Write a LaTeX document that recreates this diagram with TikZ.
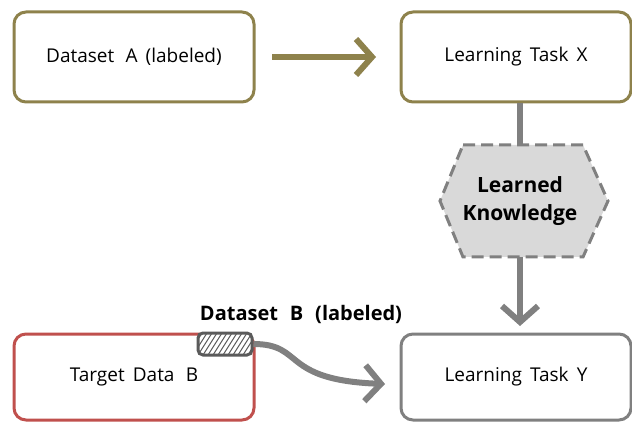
\documentclass[tikz,border=0pt]{standalone}
\usepackage{fontspec}
\setmainfont{Open Sans}
\usetikzlibrary{arrows.meta,patterns,shapes.geometric}
\definecolor{olive}{RGB}{142,130,76}
\definecolor{redb}{RGB}{192,80,77}
\definecolor{grayb}{RGB}{128,128,128}
\definecolor{hexfill}{RGB}{217,217,217}
\begin{document}
\begin{tikzpicture}[x=1pt,y=-1pt,
  box/.style={draw, line width=3pt, rounded corners=12pt, fill=white, inner sep=0pt, font=\fontsize{19}{22}\selectfont},
  thick arrow/.style={line width=6pt, -{Straight Barb[length=16pt,width=36pt,line width=6pt]}},
  hex/.style={draw=grayb, fill=hexfill, dashed, dash pattern=on 12pt off 6pt, line width=3pt}]
\useasboundingbox (0,0) rectangle (632,422);
% top row
\node[box, draw=olive, minimum width=240pt, minimum height=90pt] (dsA) at (134,57) {Dataset\,\, A\, (labeled)};
\node[box, draw=olive, minimum width=230pt, minimum height=90pt] (taskX) at (516,57) {Learning\, Task\, X};
% bottom row
\node[box, draw=redb, minimum width=240pt, minimum height=86pt] (tgt) at (134,377) {Target\, Data\,\, B};
\node[box, draw=grayb, minimum width=230pt, minimum height=86pt] (taskY) at (516,377) {Learning\, Task\, Y};
% knowledge hexagon
\coordinate (hexc) at (520,201);
\draw[hex] (463,145) -- (583,145) -- (608,201) -- (583,257) -- (463,257) -- (440,201) -- cycle;
\node[font=\bfseries\fontsize{21}{28}\selectfont, align=center] (know) at (hexc) {Learned\\Knowledge};
\coordinate (hexT) at (520,145);
\coordinate (hexB) at (520,257);
% connectors
\draw[olive, thick arrow] (272,57) -- (376,57);
\draw[grayb, line width=6pt] (taskX.south -| hexT) -- (hexT);
\draw[grayb, thick arrow] (hexB) -- (520,326);
% labelled data tag
\node[font=\bfseries\fontsize{20}{22}\selectfont] (dsB) at (301,314) {Dataset\,\, B\,\, (labeled)};
\node[draw=grayb!70!black, line width=3pt, rounded corners=5pt, minimum width=54pt, minimum height=22pt, inner sep=0pt,
  path picture={\fill[white] (path picture bounding box.south west) rectangle (path picture bounding box.north east);
  \foreach \i in {-30,-25,...,60} {\draw[grayb!70!black, line width=1pt] ([xshift=\i pt]path picture bounding box.south west) -- ++(14pt,22pt);}}] (tag) at (225,344) {};
\draw[grayb, thick arrow] (tag.east) .. controls (305,344) and (280,380) .. (385,384);
\end{tikzpicture}
\end{document}
